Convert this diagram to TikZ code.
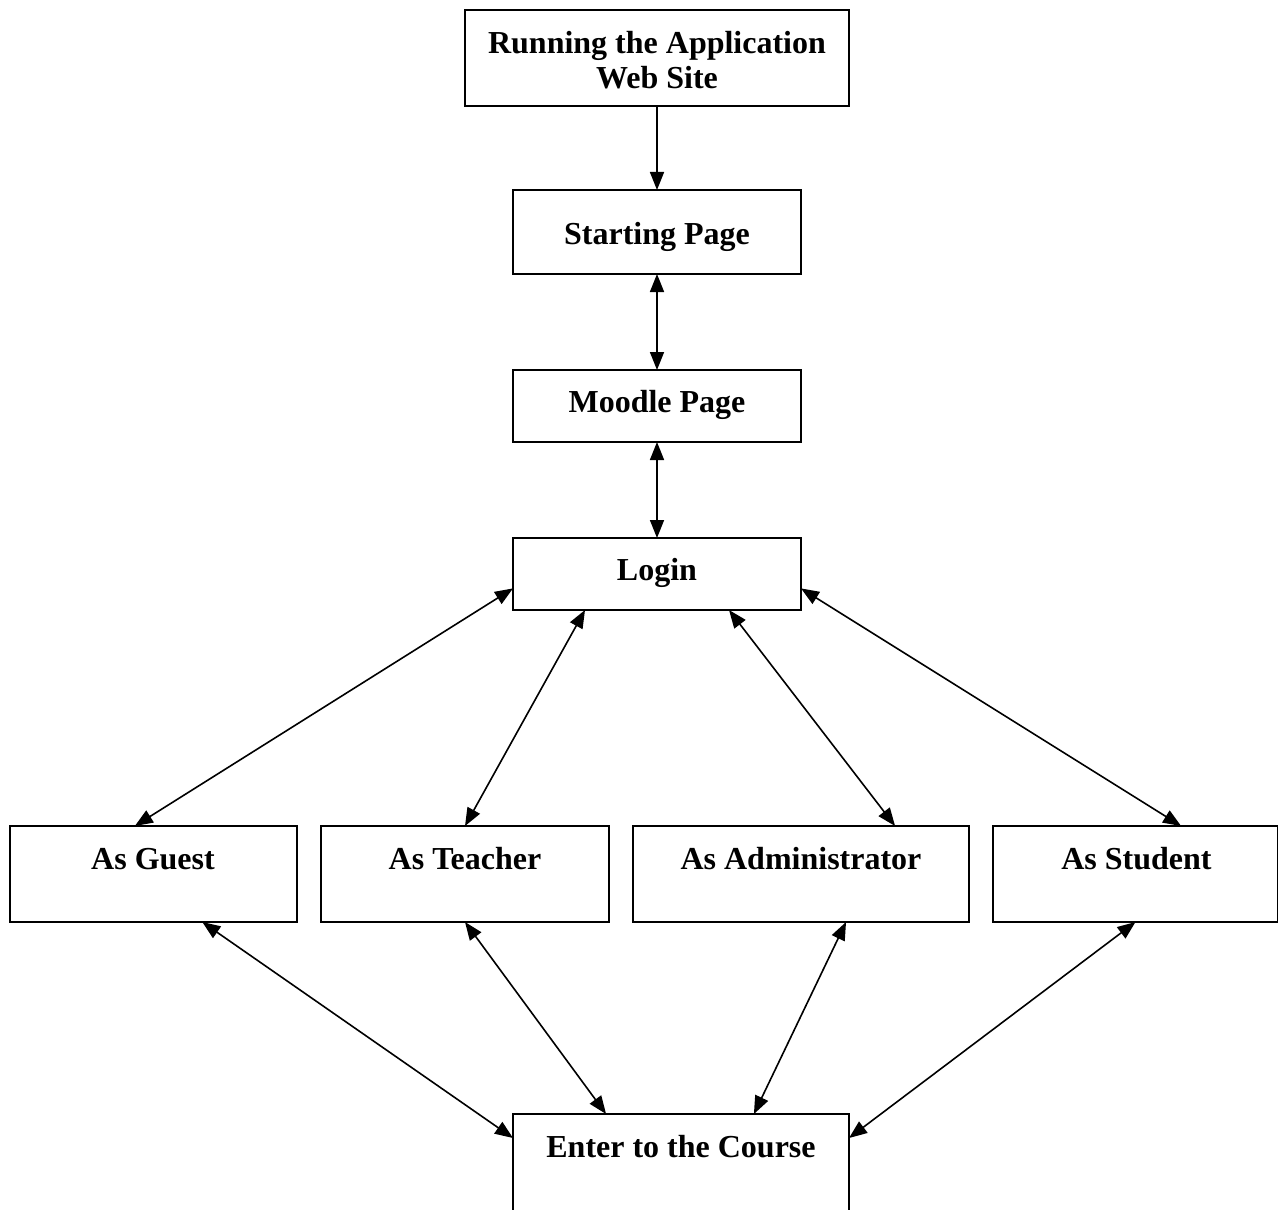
\documentclass[tikz,border=0pt]{standalone}
\usepackage{fontspec}
\setmainfont{Liberation Serif}
\usetikzlibrary{arrows.meta,calc}
\begin{document}
\begin{tikzpicture}[x=0.5pt,y=-0.5pt,
  box/.style={draw, rectangle, line width=1.1pt, inner sep=0pt, outer sep=0pt},
  lbl/.style={font=\fontsize{16}{17.5}\selectfont\bfseries, inner sep=0pt, align=center},
  link/.style={line width=0.8pt, {Triangle[length=9pt,width=7pt]}-{Triangle[length=9pt,width=7pt]}},
  oneway/.style={line width=0.8pt, -{Triangle[length=9pt,width=7pt]}}]

% page frame
\useasboundingbox (0,0) rectangle (1278,1209);
\clip (0,0) rectangle (1278,1209);

% boxes
\node[box, minimum width=192pt, minimum height=48pt] (run) at (657,58) {};
\node[box, minimum width=144pt, minimum height=42pt] (start) at (657,232) {};
\node[box, minimum width=144pt, minimum height=36pt] (moodle) at (657,406) {};
\node[box, minimum width=144pt, minimum height=36pt] (login) at (657,574) {};
\node[box, minimum width=143.5pt, minimum height=48pt] (guest) at (153.5,874) {};
\node[box, minimum width=144pt, minimum height=48pt] (teacher) at (465,874) {};
\node[box, minimum width=168pt, minimum height=48pt] (admin) at (801,874) {};
\node[box, minimum width=142.5pt, minimum height=48pt] (student) at (1135.5,874) {};
\node[box, minimum width=168pt, minimum height=60pt] (enter) at (681,1174) {};

% labels
\node[lbl] (runT) at (657,60.5) {Running the Application\\Web Site};
\node[lbl] (startT) at (657,237) {Starting Page};
\node[lbl] (moodleT) at (657,405) {Moodle Page};
\node[lbl] (loginT) at (657,573) {Login};
\node[lbl] (guestT) at (153,859) {As Guest};
\node[lbl] (teacherT) at (465,859) {As Teacher};
\node[lbl] (adminT) at (801,859) {As Administrator};
\node[lbl] (studentT) at (1136.5,859) {As Student};
\node[lbl] (enterT) at (681,1147) {Enter to the Course};

% connectors
\draw[oneway] (run) -- (start);
\draw[link] (start) -- (moodle);
\draw[link] (moodle) -- (login);
\draw[link] ($(login.north west)!.7!(login.south west)$) -- ($(guest.north west)!.435!(guest.north east)$);
\draw[link] ($(login.south west)!.25!(login.south east)$) -- (teacher.north);
\draw[link] ($(login.south west)!.75!(login.south east)$) -- ($(admin.north west)!.78!(admin.north east)$);
\draw[link] ($(login.north east)!.7!(login.south east)$) -- ($(student.north west)!.66!(student.north east)$);
\draw[link] ($(guest.south west)!.67!(guest.south east)$) -- ($(enter.north west)+(0,24)$);
\draw[link] (teacher.south) -- ($(enter.north west)!.277!(enter.north east)$);
\draw[link] ($(admin.south west)!.634!(admin.south east)$) -- ($(enter.north west)!.717!(enter.north east)$);
\draw[link] (student.south) -- ($(enter.north east)+(0,24)$);
\end{tikzpicture}
\end{document}
